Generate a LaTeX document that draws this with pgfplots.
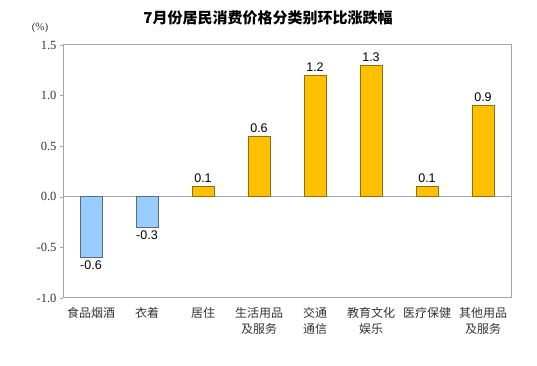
\documentclass[border=0pt]{standalone}
\usepackage{pgfplots}
\pgfplotsset{compat=1.18}
\usepackage{fontspec}
\setmainfont{Liberation Sans}
\newfontfamily\serifnum{Liberation Serif}
\newfontfamily\cjk{Noto Sans CJK SC}
\definecolor{barblue}{HTML}{99CCFF}
\definecolor{barblueedge}{HTML}{5A6A7A}
\definecolor{barorange}{HTML}{FFC000}
\definecolor{barorangeedge}{HTML}{8A7010}
\definecolor{framegray}{HTML}{A6A6A6}
\definecolor{labgray}{HTML}{333333}
\begin{document}
\begin{tikzpicture}
\path[use as bounding box] (-63pt,-68pt) rectangle (474pt,298pt);
\begin{axis}[
  at={(0pt,0pt)}, anchor=south west,
  scale only axis, width=448pt, height=253pt,
  xmin=-0.5, xmax=7.5, ymin=-1.0, ymax=1.5,
  ytick={-1,-0.5,0,0.5,1,1.5},
  xtick={0,1,2,3,4,5,6,7},
  xticklabels={食品烟酒,衣着,居住,{生活用品\\及服务},{交通\\通信},{教育文化\\娱乐},医疗保健,{其他用品\\及服务}},
  x tick label style={font=\cjk\fontsize{12}{16}\selectfont, text=labgray, align=center, anchor=north, yshift=-3pt},
  major x tick style={draw=none},
  y tick label style={font=\serifnum\fontsize{12.5}{14}\selectfont, text=labgray, /pgf/number format/.cd, fixed, fixed zerofill, precision=1, assume math mode=true},
  tick pos=left, tick align=outside, major tick length=3pt,
  y tick style={framegray},
  axis line style={framegray, line width=1pt},
  ybar, bar width=22pt, bar shift=0pt,
  nodes near coords,
  nodes near coords style={font=\fontsize{12.5}{14}\selectfont, text=black, /pgf/number format/.cd, fixed, fixed zerofill, precision=1, assume math mode=true},
  clip=false,
]
\draw[framegray, line width=1pt] (axis cs:-0.5,0) -- (axis cs:7.5,0);
\addplot[fill=barblue, draw=barblueedge, line width=0.8pt] coordinates {(0,-0.6) (1,-0.3)};
\addplot[fill=barorange, draw=barorangeedge, line width=0.8pt] coordinates {(2,0.1) (3,0.6) (4,1.2) (5,1.3) (6,0.1) (7,0.9)};
\end{axis}
\node[font=\cjk\bfseries\fontsize{15}{18}\selectfont, text=black] at (205pt,280pt) {7月份居民消费价格分类别环比涨跌幅};
\node[font=\serifnum\fontsize{11}{13}\selectfont, text=labgray] at (-23pt,270pt) {(\%)};
\end{tikzpicture}
\end{document}
